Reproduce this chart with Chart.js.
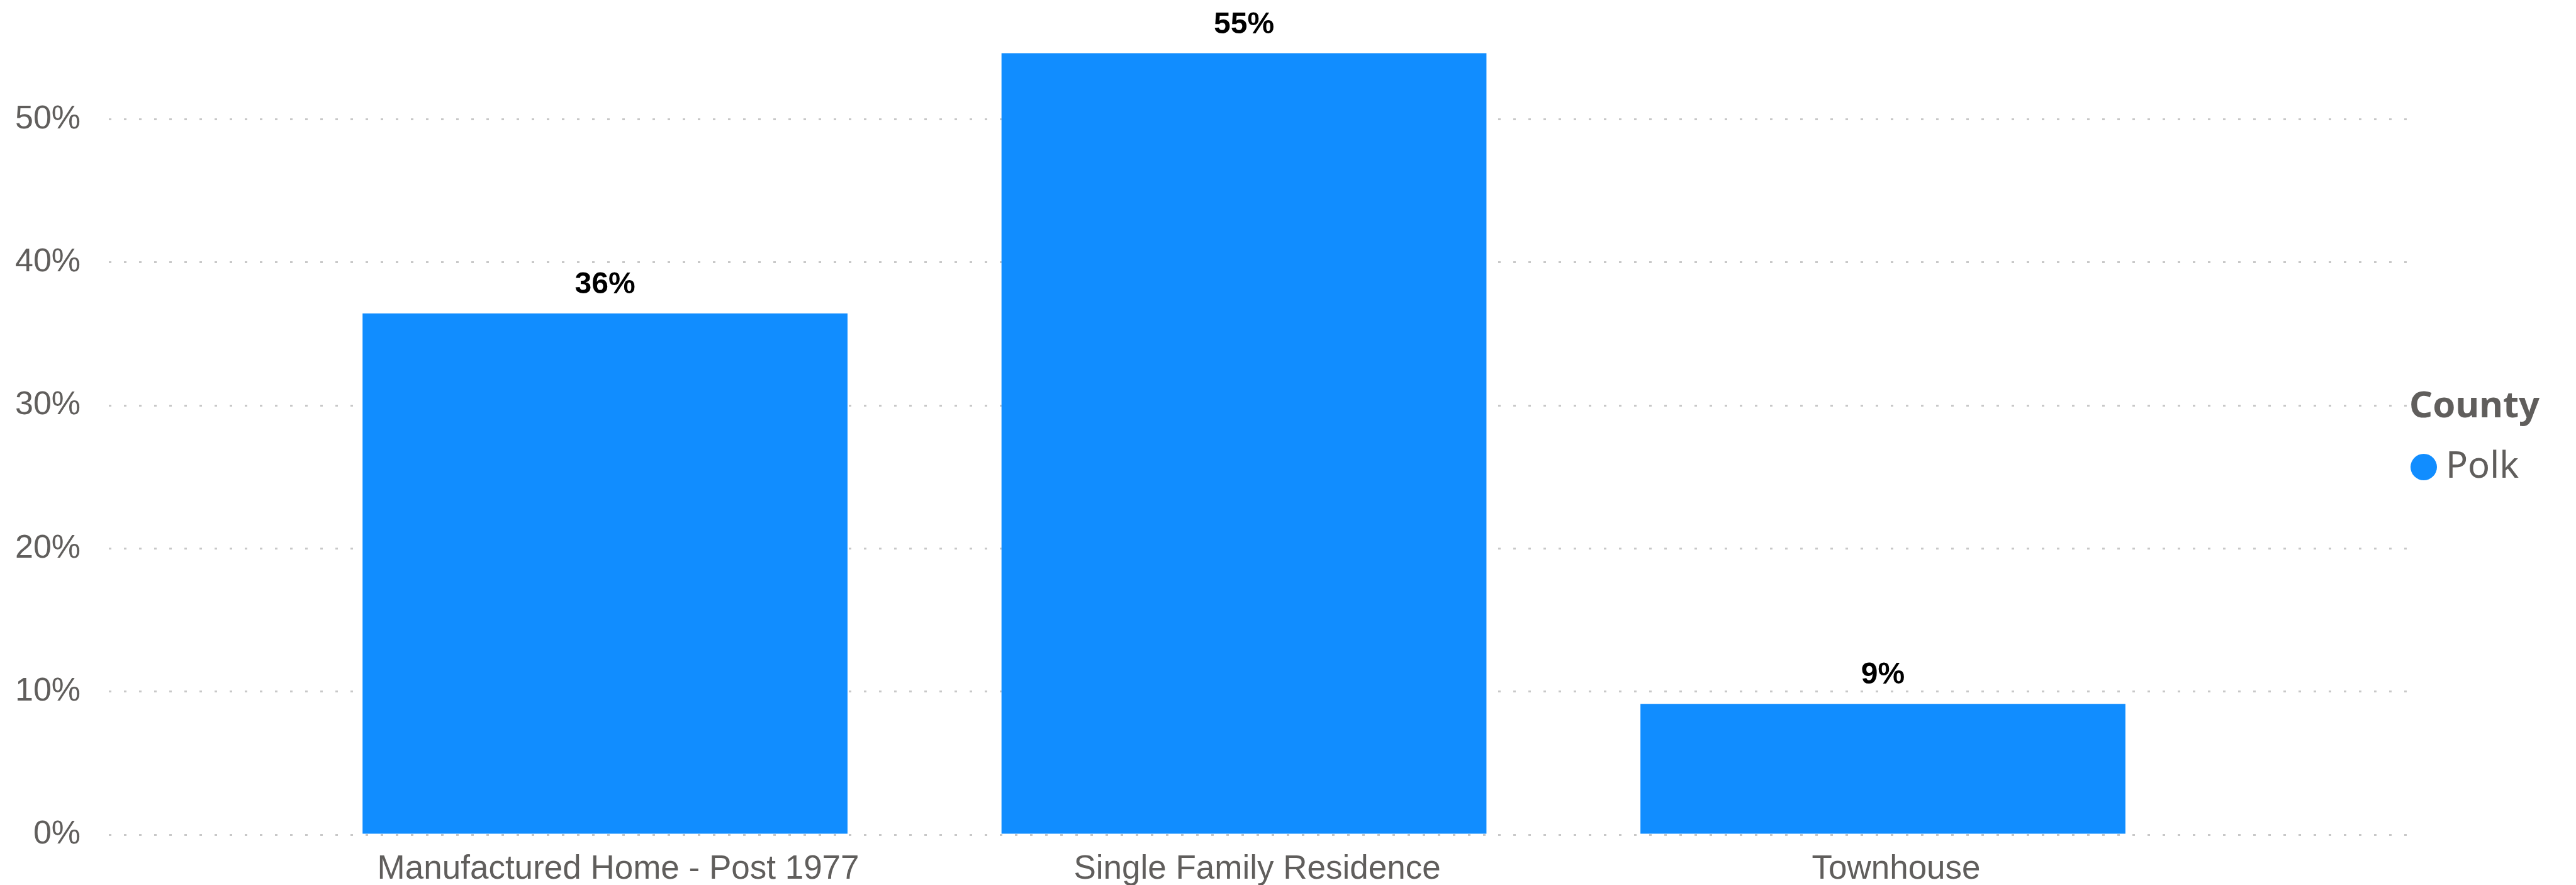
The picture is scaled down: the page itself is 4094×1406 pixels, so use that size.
<!DOCTYPE html>
<html>
<head>
<meta charset="utf-8">
<title>Share by property type - Polk</title>
<script src="https://cdn.jsdelivr.net/npm/chart.js@4.4.1/dist/chart.umd.min.js"></script>
<style>
  html, body { margin: 0; padding: 0; background: #fff; overflow: hidden; }
  #wrap { width: 4094px; height: 1406px; position: relative; }
</style>
</head>
<body>
<div id="wrap"><canvas id="myChart"></canvas></div>
<script>
// values
const categories = ['Manufactured Home - Post 1977', 'Single Family Residence', 'Townhouse'];
const seriesName = 'Polk';
const polkShare = [0.3642, 0.5461, 0.0914];
const legendTitle = 'County';

const barColor = '#118DFF';
const axisGrey = '#605E5C';
const legendFont = '"Noto Sans", "Open Sans", sans-serif';

// percentage labels above each bar
const barLabels = {
    id: 'barLabels',
    afterDatasetsDraw(chart) {
        const ctx = chart.ctx;
        const meta = chart.getDatasetMeta(0);
        ctx.save();
        ctx.font = 'bold 48px "Liberation Sans", Arial, sans-serif';
        ctx.fillStyle = '#000';
        ctx.textAlign = 'center';
        ctx.textBaseline = 'middle';
        meta.data.forEach((bar, i) => {
            ctx.fillText(Math.round(polkShare[i] * 100) + '%', bar.x, bar.y - 45);
        });
        ctx.restore();
    }
};

// Power BI style legend: bold title with a round marker under it
const sideLegend = {
    id: 'sideLegend',
    afterDraw(chart) {
        const ctx = chart.ctx;
        const area = chart.chartArea;
        const ds = chart.data.datasets[0];
        const left = area.right + 3;
        const mid = (area.top + area.bottom) / 2;
        ctx.save();
        ctx.textBaseline = 'middle';
        ctx.textAlign = 'left';
        ctx.fillStyle = axisGrey;
        ctx.font = 'bold 58px ' + legendFont;
        ctx.fillText(legendTitle, left, mid - 42);
        ctx.beginPath();
        ctx.arc(left + 23, mid + 54, 21, 0, Math.PI * 2);
        ctx.fillStyle = ds.backgroundColor;
        ctx.fill();
        ctx.fillStyle = axisGrey;
        ctx.font = '58px ' + legendFont;
        ctx.fillText(ds.label, left + 58, mid + 54);
        ctx.restore();
    }
};

const chartCtx = document.getElementById('myChart').getContext('2d');
new Chart(chartCtx, {
    type: 'bar',
    data: {
        labels: categories,
        datasets: [{
            label: seriesName,
            data: polkShare.map((v, i) => ({ x: i, y: v })),
            backgroundColor: barColor,
            borderWidth: 0,
            categoryPercentage: 1,
            barPercentage: 0.759
        }]
    },
    options: {
        responsive: true,
        maintainAspectRatio: false,
        animation: false,
        layout: { padding: { top: 50, left: 24, right: 268, bottom: 0 } },
        plugins: {
            tooltip: { enabled: false },
            legend: { display: false }
        },
        scales: {
            x: {
                type: 'linear',
                offset: false,
                min: -0.7765,
                max: 2.8208,
                afterBuildTicks: (axis) => {
                    axis.ticks = categories.map((c, i) => ({ value: i }));
                },
                afterFit: (axis) => {
                    // fixed band under the plot for the category names
                    axis.height = 80;
                    axis.paddingLeft = 0;
                    axis.paddingRight = 0;
                },
                grid: { display: false, drawTicks: false },
                border: { display: false },
                ticks: {
                    padding: 24,
                    labelOffset: 21,
                    maxRotation: 0,
                    autoSkip: false,
                    color: axisGrey,
                    font: { family: '"Liberation Sans", Arial, sans-serif', size: 53 },
                    callback: (value) => categories[value]
                }
            },
            y: {
                min: 0,
                max: 0.5613,
                afterFit: (axis) => {
                    // chart.js counts tick padding twice; keep it once
                    axis.width -= 45;
                    axis.paddingTop = 0;
                    axis.paddingBottom = 0;
                },
                grid: {
                    color: '#c8c8c8',
                    lineWidth: 3,
                    drawTicks: false
                },
                border: { display: false, dash: [4, 20] },
                ticks: {
                    stepSize: 0.1,
                    includeBounds: false,
                    padding: 45,
                    color: axisGrey,
                    font: { family: '"Liberation Sans", Arial, sans-serif', size: 52 },
                    callback: (value) => Math.round(value * 100) + '%'
                }
            }
        }
    },
    plugins: [barLabels, sideLegend]
});
</script>
</body>
</html>
